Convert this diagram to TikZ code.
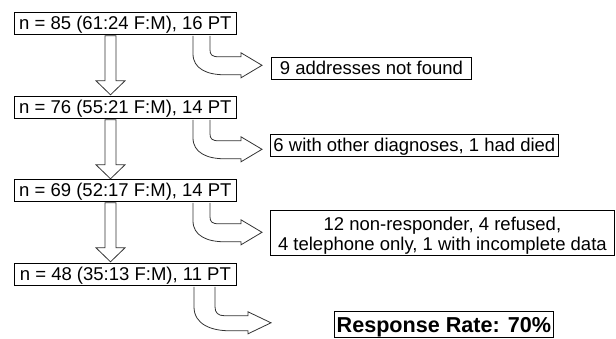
\documentclass[tikz,border=0pt]{standalone}
\usepackage{fontspec}
\setmainfont{Liberation Sans}
\usetikzlibrary{calc}
\begin{document}
\begin{tikzpicture}[x=1pt,y=-1pt,
  frame/.style={draw=black, line width=0.8pt, inner sep=0pt, anchor=north west,
    font=\fontsize{18.5}{20}\selectfont},
  box/.style={frame, text height=13pt, text depth=0pt},
  leftbox/.style={box, minimum width=222pt, minimum height=22pt},
  blk/.style={draw=black!80, line width=0.8pt, line join=miter}]
\useasboundingbox (0,0) rectangle (616,338);

% left column
\node[leftbox] (b1) at (14,12)  {n = 85 (61:24 F:M), 16 PT};
\node[leftbox] (b2) at (14,96)  {n = 76 (55:21 F:M), 14 PT};
\node[leftbox] (b3) at (14,179) {n = 69 (52:17 F:M), 14 PT};
\node[leftbox] (b4) at (14,263) {n = 48 (35:13 F:M), 11 PT};

% right column
\node[box, minimum width=200pt, minimum height=22pt] (r1) at (271,57) {9 addresses not found};
\node[box, minimum width=288pt, minimum height=22pt] (r2) at (270,134) {6 with other diagnoses, 1 had died};
\node[frame, minimum width=344pt, minimum height=45pt, align=center] (r3) at (270,210)
  {\rule{0pt}{19.5pt}12 non-responder, 4 refused,\\4 telephone only, 1 with incomplete data};
\node[box, minimum width=219pt, minimum height=26pt, text height=15.5pt,
  font=\fontsize{21.6}{24}\selectfont\bfseries] (r4) at (334,311) {Response Rate: 70\%};

% straight block arrows
\foreach \a/\b in {b1/b2, b2/b3, b3/b4}{
  \begin{scope}[shift={($(\a.south west)+(91,1)$)}]
    \draw[blk] (0,0) -- (0,45) -- (-9,45) -- (5.5,59) -- (20,45) -- (11,45) -- (11,0) -- cycle;
  \end{scope}
}

% curved block arrows
\foreach \a in {b1, b2, b3}{
  \begin{scope}[shift={($(\a.south west)+(179,1)$)}]
    \draw[blk] (0,0) -- (0,18) .. controls (0,33) and (14,39) .. (32,39) -- (48,39)
      -- (48,42) -- (69,29.5) -- (48,17) -- (48,21) -- (26,21)
      .. controls (19,21) and (17,19) .. (17,14) -- (17,0);
  \end{scope}
}
\begin{scope}[shift={($(b4.south west)+(180,1)$)}]
  \draw[blk] (0,0) -- (0,20) .. controls (0,38) and (18,44) .. (36,44) -- (54,44)
    -- (54,47) -- (77,36) -- (54,25) -- (54,29) -- (31,29)
    .. controls (24,29) and (21,26) .. (21,20) -- (21,0);
\end{scope}
\end{tikzpicture}
\end{document}
